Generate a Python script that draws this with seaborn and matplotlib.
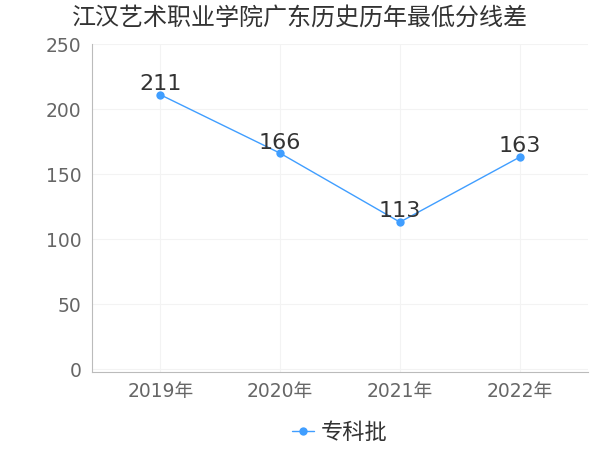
import matplotlib
matplotlib.use("Agg")
import matplotlib.pyplot as plt
import seaborn as sns
import pandas as pd

years = ["2019年", "2020年", "2021年", "2022年"]
scores = [211, 166, 113, 163]
series_name = "专科批"
title = "江汉艺术职业学院广东历史历年最低分线差"

df = pd.DataFrame({"year": years, "score": scores, "batch": series_name})

sns.set_style("white")
plt.rcParams["font.family"] = ["DejaVu Sans", "Noto Sans CJK SC"]

fig = plt.figure(figsize=(6, 4.5), dpi=100)
ax = fig.add_axes([92 / 600, 1 - 372 / 450, 496 / 600, (372 - 44) / 450])

sns.lineplot(data=df, x="year", y="score", hue="batch", palette=["#409eff"],
             marker="o", markersize=6, markeredgewidth=0, linewidth=1, ax=ax, sort=False)

for i, v in enumerate(scores):
    ax.text(i, v + 0.5, str(v), ha="center", va="bottom", fontsize=16, color="#333333")

ax.set_xlim(-0.57, 3.57)
ax.set_ylim(-2.3, 250)
ax.set_yticks([0, 50, 100, 150, 200, 250])
ax.set_xlabel("")
ax.set_ylabel("")
ax.grid(True, color="#f3f3f3", linewidth=0.8)
ax.tick_params(axis="both", labelsize=13.5, colors="#666666", length=4, width=0.8)
ax.tick_params(axis="both", color="#bbbbbb")
for s in ["top", "right"]:
    ax.spines[s].set_visible(False)
ax.spines["left"].set_color("#bbbbbb")
ax.spines["bottom"].set_color("#bbbbbb")

fig.text(0.5, 1 - 18 / 450, title, ha="center", va="center",
         fontsize=17.3, color="#333333", family=["Noto Sans CJK SC", "DejaVu Sans"])

ax.legend(loc="center", bbox_to_anchor=(0.5, -0.185), frameon=False,
          prop={"family": ["Noto Sans CJK SC"], "size": 16},
          handlelength=1.0, handletextpad=0.3, labelcolor="#333333")

fig.savefig("out.png", dpi=100)
